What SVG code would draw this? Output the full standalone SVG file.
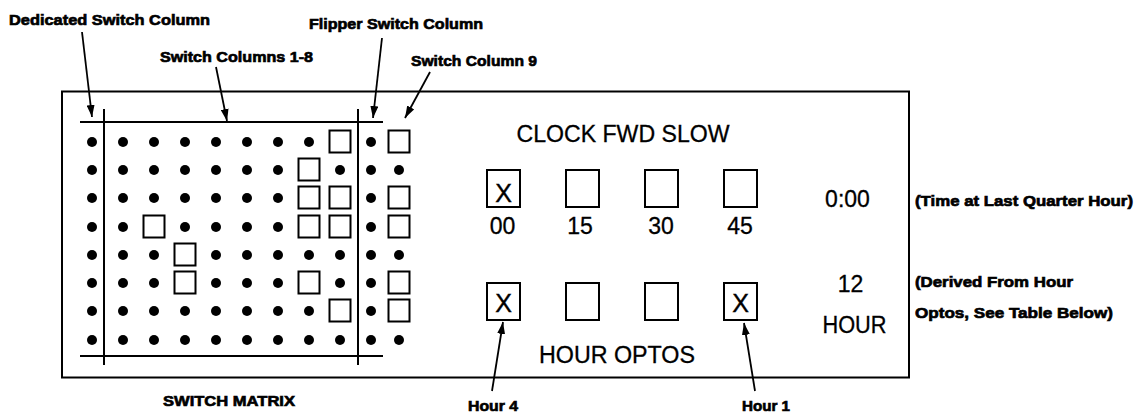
<svg xmlns="http://www.w3.org/2000/svg" width="1145" height="413" viewBox="0 0 1145 413">
<style>
.b{font-family:"Liberation Sans",Arial,sans-serif;font-weight:bold;font-size:15.5px;fill:#000;stroke:#000;stroke-width:0.7px}
.r{font-family:"Liberation Sans",Arial,sans-serif;font-size:23px;fill:#000;stroke:#000;stroke-width:0.3px}
.x{font-family:"Liberation Sans",Arial,sans-serif;font-size:25px;fill:#000;stroke:#000;stroke-width:0.4px}
.ln{stroke:#000;stroke-width:2;fill:none}
.sq{stroke:#000;stroke-width:2;fill:#fff}
.dot{fill:#000}
.ar{stroke:#000;stroke-width:1.8;fill:none;marker-end:url(#ah)}
</style>
<defs>
<marker id="ah" markerUnits="userSpaceOnUse" markerWidth="12" markerHeight="8" refX="12" refY="4" orient="auto">
<path d="M0,0 L12,4 L0,8 z" fill="#000"/>
</marker>
<circle id="d" r="5"/>
<rect id="s" x="-10.5" y="-11.5" width="21" height="22"/>
</defs>
<rect width="1145" height="413" fill="#fff"/>
<g id="frame">
<rect class="ln" x="62" y="91.5" width="847" height="286"/>
</g>
<g id="matrix">
<line class="ln" x1="80" y1="122" x2="383" y2="122"/>
<line class="ln" x1="80" y1="356" x2="383" y2="356"/>
<line class="ln" x1="104" y1="109" x2="104" y2="365"/>
<line class="ln" x1="358" y1="109" x2="358" y2="365"/>
<g class="dot">
<use href="#d" x="92" y="142"/><use href="#d" x="123" y="142"/><use href="#d" x="154" y="142"/><use href="#d" x="185" y="142"/><use href="#d" x="216" y="142"/><use href="#d" x="247" y="142"/><use href="#d" x="278" y="142"/><use href="#d" x="309" y="142"/><use href="#d" x="371" y="142"/>
<use href="#d" x="92" y="170"/><use href="#d" x="123" y="170"/><use href="#d" x="154" y="170"/><use href="#d" x="185" y="170"/><use href="#d" x="216" y="170"/><use href="#d" x="247" y="170"/><use href="#d" x="278" y="170"/><use href="#d" x="340" y="170"/><use href="#d" x="371" y="170"/><use href="#d" x="399" y="170"/>
<use href="#d" x="92" y="198"/><use href="#d" x="123" y="198"/><use href="#d" x="154" y="198"/><use href="#d" x="185" y="198"/><use href="#d" x="216" y="198"/><use href="#d" x="247" y="198"/><use href="#d" x="278" y="198"/><use href="#d" x="371" y="198"/>
<use href="#d" x="92" y="227"/><use href="#d" x="123" y="227"/><use href="#d" x="185" y="227"/><use href="#d" x="216" y="227"/><use href="#d" x="247" y="227"/><use href="#d" x="278" y="227"/><use href="#d" x="371" y="227"/>
<use href="#d" x="92" y="255"/><use href="#d" x="123" y="255"/><use href="#d" x="154" y="255"/><use href="#d" x="216" y="255"/><use href="#d" x="247" y="255"/><use href="#d" x="278" y="255"/><use href="#d" x="309" y="255"/><use href="#d" x="340" y="255"/><use href="#d" x="371" y="255"/><use href="#d" x="399" y="255"/>
<use href="#d" x="92" y="283"/><use href="#d" x="123" y="283"/><use href="#d" x="154" y="283"/><use href="#d" x="216" y="283"/><use href="#d" x="247" y="283"/><use href="#d" x="278" y="283"/><use href="#d" x="340" y="283"/><use href="#d" x="371" y="283"/>
<use href="#d" x="92" y="311"/><use href="#d" x="123" y="311"/><use href="#d" x="154" y="311"/><use href="#d" x="185" y="311"/><use href="#d" x="216" y="311"/><use href="#d" x="247" y="311"/><use href="#d" x="278" y="311"/><use href="#d" x="309" y="311"/><use href="#d" x="371" y="311"/>
<use href="#d" x="92" y="340"/><use href="#d" x="123" y="340"/><use href="#d" x="154" y="340"/><use href="#d" x="185" y="340"/><use href="#d" x="216" y="340"/><use href="#d" x="247" y="340"/><use href="#d" x="278" y="340"/><use href="#d" x="309" y="340"/><use href="#d" x="340" y="340"/><use href="#d" x="371" y="340"/><use href="#d" x="399" y="340"/>
</g>
<g class="sq">
<use href="#s" x="340" y="142"/><use href="#s" x="399" y="142"/>
<use href="#s" x="309" y="170"/>
<use href="#s" x="309" y="198"/><use href="#s" x="340" y="198"/><use href="#s" x="399" y="198"/>
<use href="#s" x="154" y="227"/><use href="#s" x="309" y="227"/><use href="#s" x="340" y="227"/><use href="#s" x="399" y="227"/>
<use href="#s" x="185" y="255"/>
<use href="#s" x="185" y="283"/><use href="#s" x="309" y="283"/><use href="#s" x="399" y="283"/>
<use href="#s" x="340" y="311"/><use href="#s" x="399" y="311"/>
</g>
<text class="b" x="163" y="406" textLength="132" lengthAdjust="spacingAndGlyphs">SWITCH MATRIX</text>
</g>
<g id="labels-top">
<text class="b" x="9" y="25" textLength="201" lengthAdjust="spacingAndGlyphs">Dedicated Switch Column</text>
<text class="b" x="160" y="62" textLength="153" lengthAdjust="spacingAndGlyphs">Switch Columns 1-8</text>
<text class="b" x="309" y="29" textLength="174" lengthAdjust="spacingAndGlyphs">Flipper Switch Column</text>
<text class="b" x="411" y="66" textLength="126" lengthAdjust="spacingAndGlyphs">Switch Column 9</text>
</g>
<g id="clock">
<text class="r" x="623" y="142" text-anchor="middle" textLength="213" lengthAdjust="spacingAndGlyphs">CLOCK FWD SLOW</text>
<g class="sq">
<rect x="487" y="170" width="33" height="37"/>
<rect x="566" y="170" width="33" height="37"/>
<rect x="645" y="170" width="33" height="37"/>
<rect x="724" y="170" width="33" height="37"/>
</g>
<text class="x" x="503.5" y="201.5" text-anchor="middle">X</text>
<text class="r" x="502.5" y="234" text-anchor="middle">00</text>
<text class="r" x="580" y="234" text-anchor="middle">15</text>
<text class="r" x="661" y="234" text-anchor="middle">30</text>
<text class="r" x="740" y="234" text-anchor="middle">45</text>
<text class="r" x="847.5" y="207" text-anchor="middle">0:00</text>
<text class="b" x="915" y="206" textLength="218" lengthAdjust="spacingAndGlyphs">(Time at Last Quarter Hour)</text>
</g>
<g id="hour">
<g class="sq">
<rect x="487" y="283" width="33" height="37"/>
<rect x="566" y="283" width="33" height="37"/>
<rect x="645" y="283" width="33" height="37"/>
<rect x="724" y="283" width="33" height="37"/>
</g>
<text class="x" x="503.5" y="312" text-anchor="middle">X</text>
<text class="x" x="740.5" y="312" text-anchor="middle">X</text>
<text class="r" x="617" y="363" text-anchor="middle" textLength="156" lengthAdjust="spacingAndGlyphs">HOUR OPTOS</text>
<text class="r" x="850.5" y="292" text-anchor="middle">12</text>
<text class="r" x="854.5" y="333" text-anchor="middle" textLength="64" lengthAdjust="spacingAndGlyphs">HOUR</text>
<text class="b" x="915" y="287" textLength="158" lengthAdjust="spacingAndGlyphs">(Derived From Hour</text>
<text class="b" x="915" y="318" textLength="198" lengthAdjust="spacingAndGlyphs">Optos, See Table Below)</text>
<text class="b" x="468" y="411" textLength="50" lengthAdjust="spacingAndGlyphs">Hour 4</text>
<text class="b" x="742" y="411" textLength="48" lengthAdjust="spacingAndGlyphs">Hour 1</text>
</g>
<g id="connectors">
<line class="ar" x1="82" y1="32" x2="92" y2="117"/>
<line class="ar" x1="216" y1="67" x2="227" y2="121"/>
<line class="ar" x1="382" y1="38" x2="373" y2="118"/>
<line class="ar" x1="430" y1="72" x2="405" y2="118"/>
<line class="ar" x1="492" y1="391" x2="503" y2="322"/>
<line class="ar" x1="755" y1="391" x2="744" y2="323"/>
</g>
</svg>
